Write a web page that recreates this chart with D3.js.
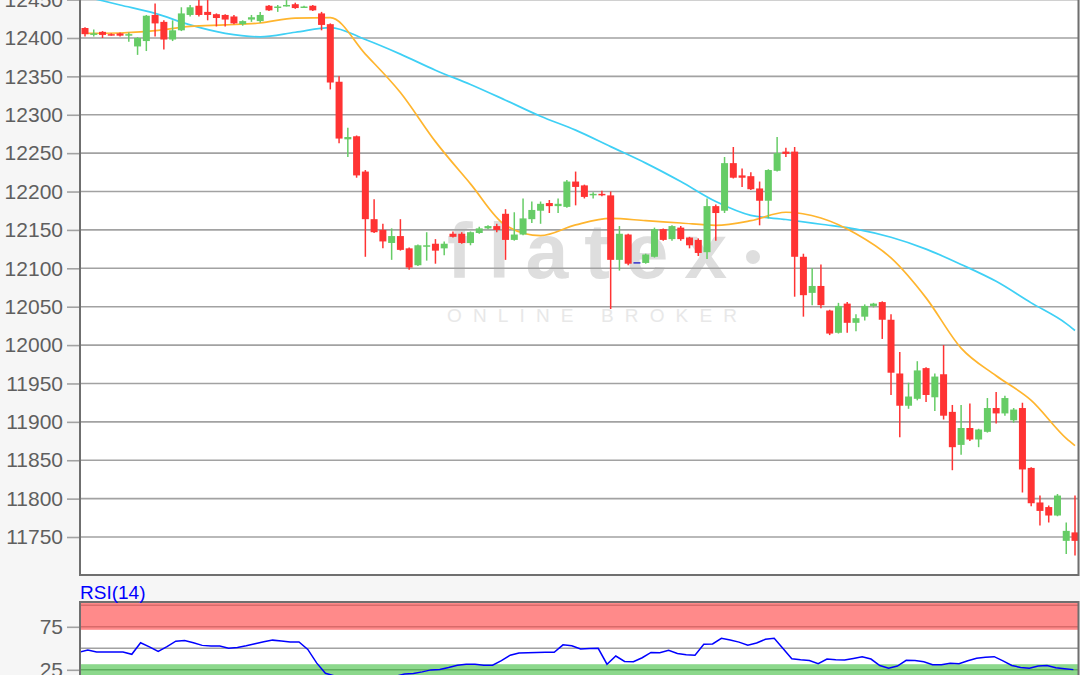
<!DOCTYPE html>
<html><head><meta charset="utf-8">
<script src="https://cdn.jsdelivr.net/npm/d3@7"></script>
<style>html,body{margin:0;padding:0;background:#f6f6f6;overflow:hidden}svg{display:block}</style>
</head><body><svg id="c" width="1080" height="675"></svg>
<script>
// ---------- DATA ----------
const candleOpen = [12413,12404,12408,12405,12406,12403,12389,12396,12430,12421,
12398,12410,12430,12442,12434,12431,12430,12428,12418,12424,
12422,12442,12440,12442,12444,12440,12442,12432,12418,12343,
12268,12272,12226,12164,12150,12133,12142,12126,12104,12129,
12132,12126,12145,12145,12133,12146,12152,12155,12171,12137,
12144,12164,12175,12185,12181,12180,12213,12208,12196,12197,
12195,12111,12144,12107,12107,12115,12151,12138,12153,12140,
12137,12121,12181,12175,12237,12221,12220,12204,12188,12227,
12252,12252,12115,12068,12077,12045,12016,12054,12029,12037,
12051,12056,12033,11963,11921,11930,11970,11932,11962,11913,
11870,11892,11877,11887,11918,11911,11902,11918,11840,11795,
11789,11778,11745,11756];
const candleHigh = [12414,12411,12409,12406,12407,12407,12401,12430,12445,12423,
12423,12440,12443,12452,12452,12432,12431,12430,12423,12430,
12434,12443,12443,12450,12446,12442,12443,12434,12419,12350,
12283,12273,12228,12190,12158,12152,12164,12127,12131,12147,
12138,12135,12148,12147,12148,12154,12156,12158,12177,12173,
12191,12187,12187,12189,12191,12215,12226,12209,12199,12201,
12200,12155,12145,12107,12119,12153,12152,12156,12155,12141,
12139,12191,12183,12245,12258,12230,12225,12213,12229,12271,
12257,12258,12119,12100,12105,12046,12055,12056,12040,12053,
12055,12057,12040,11991,11951,11979,11971,11963,12000,11922,
11922,11924,11891,11931,11939,11934,11918,11925,11841,11804,
11791,11806,11769,11804];
const candleLow = [12402,12402,12400,12403,12402,12395,12378,12383,12402,12385,
12396,12409,12428,12428,12423,12415,12415,12418,12416,12421,
12420,12435,12434,12441,12438,12439,12435,12410,12333,12263,
12245,12218,12115,12146,12126,12111,12123,12098,12103,12110,
12106,12117,12140,12132,12130,12145,12151,12147,12111,12136,
12143,12159,12158,12172,12172,12179,12182,12191,12191,12194,
12047,12097,12104,12107,12106,12114,12136,12136,12136,12126,
12116,12112,12136,12172,12217,12206,12202,12156,12165,12226,
12245,12063,12037,12052,12048,12013,12015,12016,12018,12032,
12049,12008,11935,11880,11917,11928,11926,11914,11903,11837,
11857,11875,11867,11886,11898,11908,11899,11808,11790,11765,
11769,11777,11728,11726];
const candleClose = [12405,12406,12404,12404,12403,12405,12400,12429,12419,12398,
12410,12432,12440,12430,12430,12426,12424,12419,12422,12427,
12430,12436,12441,12443,12439,12441,12436,12417,12342,12269,
12271,12221,12164,12147,12135,12142,12124,12101,12130,12130,
12123,12132,12141,12133,12147,12152,12155,12150,12137,12144,
12165,12176,12184,12181,12184,12213,12206,12193,12197,12196,
12111,12145,12106,12107,12118,12151,12137,12155,12138,12130,
12120,12181,12172,12237,12218,12218,12203,12188,12228,12250,
12249,12115,12065,12077,12052,12015,12051,12029,12035,12051,
12054,12033,11964,11921,11933,11967,11935,11959,11908,11867,
11892,11877,11890,11918,11911,11931,11916,11838,11794,11784,
11778,11804,11758,11745];

const priceTicks = [11750,11800,11850,11900,11950,12000,12050,12100,12150,12200,12250,12300,12350,12400,12450];
const rsiTicks = [25,75];

const maIndex = [0,4,8,12,16,20,24,28,32,36,40,44,48,52,56,60,64,68,72,76,80,84,88,92,96,100,104,108,112,113];
const maFast = [12406,12406.5,12409.5,12415,12417,12419.5,12426,12426.5,12379,12329,12265,12210,12156,12142.5,12156.5,12165,12162,12159,12156,12162,12173,12165.5,12145,12113.5,12061.5,11996,11960,11928,11878.5,11869];
const maSlow = [12454,12443,12432,12417,12406,12401.5,12407.5,12413.6,12398,12379,12358,12339.5,12319,12298,12280,12258.5,12237,12213,12187,12169,12163.6,12157.4,12151,12140.4,12125,12105,12083,12055,12028,12019];

const rsiValues = [45.5,48,45.7,45.7,45.7,45.7,43,56.5,51.6,46.4,
51.9,58.3,59,56.4,53.4,52.7,52.7,50.2,51,52.9,
55.2,57.7,59.5,58.5,57.3,57.3,48.7,33,21,18,
16,15,14,14.5,15,16.5,17.5,20.1,20.8,22.6,
24.9,25.4,27.6,30.4,31.4,31.4,30.4,30.4,35.6,42,
44.4,44.8,45.2,45.3,45.3,54,53,49.3,49.8,50,
31.5,41,34.7,34.4,39,45.2,44.8,47.8,43.9,42.6,
42,54.6,55,61.6,59.7,57.2,53.6,56.1,60.5,61.6,
49.8,37.9,36.7,35.9,32,37.5,36.6,36.4,38.2,40.2,
37.5,30,26.8,29.3,36,35.7,34.3,30.9,30.8,32.6,
32,35.6,38.4,39.6,40.3,35.3,30,27.8,26.7,29.4,
30.1,27.5,26.3,25.2];

// ---------- LAYOUT ----------
const svg = d3.select('#c');
const PL = 80, PR = 1078.5, PT = -10, PB = 575;
const RT = 602, RB = 700;
const FONT = "'Liberation Sans', Arial, sans-serif";

const x = d3.scaleLinear().domain([0, candleOpen.length - 1]).range([85, 1075]);
const y = d3.scaleLinear().domain([11700, 12450]).range([575.4, -0.4]);
const xR = d3.scaleLinear().domain([0, rsiValues.length - 1]).range([79, 1073.4]);
const yR = d3.scaleLinear().domain([0, 100]).range([691.3, 605.3]);

const defs = svg.append('defs');
defs.append('clipPath').attr('id','clipMain').append('rect')
  .attr('x',PL).attr('y',PT).attr('width',PR-PL).attr('height',PB-PT);
defs.append('clipPath').attr('id','clipRsi').append('rect')
  .attr('x',PL).attr('y',RT).attr('width',PR-PL).attr('height',RB-RT);

svg.append('rect').attr('width',1080).attr('height',675).attr('fill','#f6f6f6');
svg.append('rect').attr('x',PL).attr('y',PT).attr('width',PR-PL).attr('height',PB-PT).attr('fill','#ffffff');
svg.append('rect').attr('x',PL).attr('y',RT).attr('width',PR-PL).attr('height',RB-RT).attr('fill','#ffffff');

// watermark
const wm = svg.append('g');
wm.append('text').attr('x',447).attr('y',278).text('flatex')
  .attr('font-family',FONT).attr('font-weight','bold').attr('font-size',77)
  .attr('fill','#dedede').attr('textLength',280).attr('lengthAdjust','spacing');
wm.append('circle').attr('cx',753).attr('cy',257).attr('r',7).attr('fill','#dedede');
wm.append('text').attr('x',447).attr('y',322).text('ONLINE BROKER')
  .attr('font-family',FONT).attr('font-size',19)
  .attr('fill','#e8e8e8').attr('textLength',290).attr('lengthAdjust','spacing');

// grid
svg.append('g').selectAll('line').data(priceTicks).join('line')
  .attr('x1',PL).attr('x2',PR).attr('y1',d=>y(d)).attr('y2',d=>y(d))
  .attr('stroke','#a2a2a2').attr('stroke-width',1.6);

// axis
const ax = svg.append('g').attr('transform',`translate(${PL},0)`)
  .call(d3.axisLeft(y).tickValues(priceTicks).tickSize(13).tickPadding(4).tickFormat(d3.format('d')));
ax.select('.domain').remove();
ax.selectAll('line').attr('stroke','#a2a2a2').attr('stroke-width',1.6);
ax.selectAll('text').attr('font-family',FONT).attr('font-size',21).attr('fill','#5f5f5f');

// moving averages
const gMain = svg.append('g').attr('clip-path','url(#clipMain)');
const maLine = vals => d3.line().x((d,k)=>x(maIndex[k])).y(d=>y(d)).curve(d3.curveMonotoneX)(vals);
gMain.append('path').attr('d',maLine(maSlow)).attr('fill','none').attr('stroke','#3fd0f5').attr('stroke-width',1.7);
gMain.append('path').attr('d',maLine(maFast)).attr('fill','none').attr('stroke','#ffb52e').attr('stroke-width',1.7);

// candles
const idx = d3.range(candleOpen.length);
const col = i => candleClose[i] > candleOpen[i] ? '#66cc66' : (candleClose[i] < candleOpen[i] ? '#ff3333' : '#3333cc');
const bw = 7;
gMain.append('g').selectAll('line').data(idx).join('line')
  .attr('x1',i=>x(i)).attr('x2',i=>x(i))
  .attr('y1',i=>y(candleHigh[i])).attr('y2',i=>y(candleLow[i]))
  .attr('stroke',col).attr('stroke-width',1.5);
gMain.append('g').selectAll('rect').data(idx).join('rect')
  .attr('x',i=>x(i)-bw/2).attr('width',bw)
  .attr('y',i=>y(Math.max(candleOpen[i],candleClose[i])) - (candleOpen[i]===candleClose[i]?0.8:0))
  .attr('height',i=>Math.max(1.5, Math.abs(y(candleOpen[i])-y(candleClose[i]))))
  .attr('fill',col);

// main borders
svg.append('path').attr('d',`M${PL},${PT}V${PB}H${PR}V${PT}`)
  .attr('fill','none').attr('stroke','#6f6f6f').attr('stroke-width',2);

// ---------- RSI ----------
const gR = svg.append('g').attr('clip-path','url(#clipRsi)');
gR.append('rect').attr('x',PL).attr('width',PR-PL).attr('y',yR(104.5)).attr('height',yR(71.5)-yR(104.5)).attr('fill','#ff8a8a');
gR.append('rect').attr('x',PL).attr('width',PR-PL).attr('y',yR(31.5)).attr('height',yR(-10)-yR(31.5)).attr('fill','#8cd88c');
gR.selectAll('line.band').data([100,75]).join('line').attr('class','band')
  .attr('x1',PL).attr('x2',PR).attr('y1',d=>yR(d)).attr('y2',d=>yR(d))
  .attr('stroke','#d86a6a').attr('stroke-width',1.5);
gR.selectAll('line.bandg').data([25,0]).join('line').attr('class','bandg')
  .attr('x1',PL).attr('x2',PR).attr('y1',d=>yR(d)).attr('y2',d=>yR(d))
  .attr('stroke','#5fae5f').attr('stroke-width',1.5);
gR.append('line').attr('x1',PL).attr('x2',PR).attr('y1',yR(50)).attr('y2',yR(50))
  .attr('stroke','#a2a2a2').attr('stroke-width',1.6);
gR.append('path').attr('d',d3.line().x((d,k)=>xR(k)).y(d=>yR(d))(rsiValues))
  .attr('fill','none').attr('stroke','#0000ff').attr('stroke-width',1.5);

const axR = svg.append('g').attr('transform',`translate(${PL},0)`)
  .call(d3.axisLeft(yR).tickValues(rsiTicks).tickSize(13).tickPadding(4));
axR.select('.domain').remove();
axR.selectAll('line').attr('stroke','#a2a2a2').attr('stroke-width',1.6);
axR.selectAll('text').attr('font-family',FONT).attr('font-size',21).attr('fill','#5f5f5f');

svg.append('path').attr('d',`M${PL},${RB}V${RT}H${PR}V${RB}`)
  .attr('fill','none').attr('stroke','#6f6f6f').attr('stroke-width',2);

svg.append('text').attr('x',PL).attr('y',599).text('RSI(14)')
  .attr('font-family',FONT).attr('font-size',19).attr('fill','#0000ff');
</script></body></html>
